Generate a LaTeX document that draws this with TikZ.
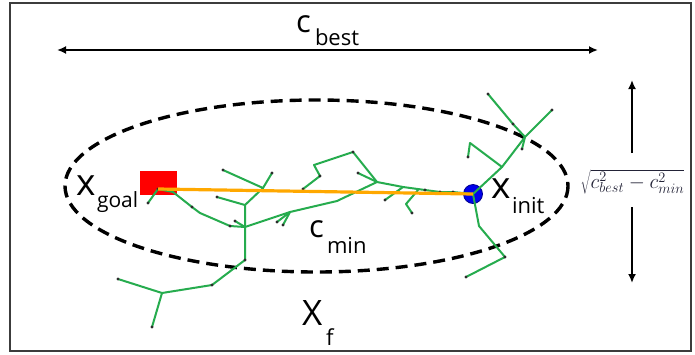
\documentclass[tikz,border=0pt]{standalone}
\usepackage{fontspec}
\setmainfont{Open Sans}
\usetikzlibrary{arrows.meta}
\definecolor{treegreen}{RGB}{38,172,78}
\definecolor{pathorange}{RGB}{255,168,0}
\definecolor{initblue}{RGB}{0,0,235}
\definecolor{goalred}{RGB}{255,0,0}
\definecolor{framegray}{RGB}{60,60,60}
\definecolor{formulacol}{RGB}{35,35,55}
\definecolor{dotgray}{RGB}{45,45,45}
\tikzset{
  frame/.style={draw=framegray, line width=2.2pt},
  dimarrow/.style={line width=2.6pt, black, arrows={-Latex[length=9pt,width=8pt]}},
  dimarrows/.style={line width=2.6pt, black, arrows={Latex[length=9pt,width=8pt]-Latex[length=9pt,width=8pt]}},
  bound/.style={draw=black, line width=3.4pt, dash pattern=on 12pt off 7pt},
  treeedge/.style={draw=treegreen, line width=2pt, line join=round, line cap=round},
  treedot/.style={circle, fill=dotgray, inner sep=0pt, minimum size=3.2pt},
  optpath/.style={draw=pathorange, line width=3.2pt},
  txt/.style={inner sep=0pt, outer sep=0pt, anchor=base west, text=black},
  bigc/.style={txt, font=\fontsize{31}{31}\selectfont},
  bigx/.style={txt, font=\fontsize{37}{37}\selectfont},
  bigX/.style={txt, font=\fontsize{35}{35}\selectfont},
  subs/.style={txt, font=\fontsize{22}{22}\selectfont},
  formula/.style={inner sep=0pt, text=formulacol, font=\fontsize{19.5}{22}\selectfont}
}
\begin{document}
\begin{tikzpicture}[x=1pt, y=-1pt]
\useasboundingbox (0,0) rectangle (695,354);
\fill[white] (0,0) rectangle (695,354);
\draw[frame] (10,3) rectangle (691,351);

% c_best dimension
\coordinate (cbL) at (57,50);
\coordinate (cbR) at (598,50);
\draw[dimarrows] (cbL) -- (cbR);
\node[bigc] (cbc) at (296,32) {c};
\node[subs] (cbs) at (315,45) {best};

% vertical dimension
\node[formula] (sq) at (632.5,182) {$\sqrt{c_{best}^2-c_{min}^2}$};
\coordinate (vt) at (632,80);
\coordinate (vtm) at (632,153);
\coordinate (vbm) at (632,207);
\coordinate (vb) at (632,283);
\draw[dimarrow] (vtm) -- (vt);
\draw[dimarrow] (vbm) -- (vb);

% ellipse
\draw[bound] (316.5,186) ellipse [x radius=251.5, y radius=86];

% goal and init
\node[fill=goalred, inner sep=0pt, minimum width=37pt, minimum height=24pt] (goal) at (158.5,183) {};
\node[circle, fill=initblue, draw=initblue!60!black, line width=0.8pt, inner sep=0pt, minimum size=19pt] (init) at (473,194) {};

% tree coordinates
\coordinate (g0) at (158,189);
\coordinate (t1) at (148,203);
\coordinate (t2) at (173,192);
\coordinate (t3) at (192,207);
\coordinate (t4) at (200,213);
\coordinate (t5) at (230,226);
\coordinate (t6) at (235,221);
\coordinate (j1) at (245,227);
\coordinate (j2) at (245,205);
\coordinate (t7) at (217,197);
\coordinate (j3) at (263,188);
\coordinate (t8) at (272,173);
\coordinate (t9) at (223,170);
\coordinate (t10) at (245,260);
\coordinate (t11) at (212,285);
\coordinate (j4) at (162,293);
\coordinate (t12) at (118,279);
\coordinate (t13) at (152,327);
\coordinate (j5) at (290,212);
\coordinate (t14) at (277,222);
\coordinate (t15) at (283,225);
\coordinate (t16) at (337,201);
\coordinate (j6) at (377,182);
\coordinate (t17) at (353,152);
\coordinate (t18) at (314,165);
\coordinate (t19) at (320,176);
\coordinate (t20) at (303,189);
\coordinate (t21) at (358,173);
\coordinate (t22) at (403,187);
\coordinate (t23) at (385,200);
\coordinate (t24) at (425,190);
\coordinate (b0) at (418,190);
\coordinate (b1) at (406,204);
\coordinate (b2) at (412,213);
\coordinate (t26) at (440,192);
\coordinate (t27) at (453,192);
\coordinate (ic) at (473,194);
\coordinate (r1) at (502,167);
\coordinate (r2) at (470,143);
\coordinate (r3) at (468,157);
\coordinate (r4) at (525,137);
\coordinate (r5) at (552,110);
\coordinate (r6) at (513,124);
\coordinate (r7) at (488,94);
\coordinate (r8) at (522,149);
\coordinate (d1) at (479,226);
\coordinate (d2) at (505,257);
\coordinate (d3) at (466,277);

% tree edges
\draw[treeedge] (g0) -- (t1);
\draw[treeedge] (g0) -- (t2) -- (t3) -- (t4) -- (t5) -- (j1);
\draw[treeedge] (t6) -- (j1);
\draw[treeedge] (t10) -- (j1) -- (j2) -- (t7);
\draw[treeedge] (j2) -- (j3) -- (t8);
\draw[treeedge] (t9) -- (j3);
\draw[treeedge] (t10) -- (t11) -- (j4) -- (t12);
\draw[treeedge] (j4) -- (t13);
\draw[treeedge] (j1) -- (j5) -- (t16) -- (j6);
\draw[treeedge] (j5) -- (t14);
\draw[treeedge] (j5) -- (t15);
\draw[treeedge] (j6) -- (t17) -- (t18) -- (t19) -- (t20);
\draw[treeedge] (j6) -- (t21);
\draw[treeedge] (j6) -- (t22) -- (t24) -- (t26) -- (t27) -- (ic);
\draw[treeedge] (t22) -- (t23);
\draw[treeedge] (b0) -- (b1) -- (b2);
\draw[treeedge] (ic) -- (r1) -- (r4) -- (r5);
\draw[treeedge] (r1) -- (r2) -- (r3);
\draw[treeedge] (r4) -- (r6) -- (r7);
\draw[treeedge] (r4) -- (r8);
\draw[treeedge] (ic) -- (d1) -- (d2) -- (d3);

% tree dots
\foreach \p in {g0,t1,t3,t5,t6,t7,t8,t9,t10,t11,t12,t13,t14,t15,t17,t19,t20,t21,t23,t24,b2,t26,t27,r3,r5,r6,r7,r8,d2,d3}
  \node[treedot] at (\p) {};

% optimal path
\draw[optpath] (g0) -- (ic);

% labels
\node[bigx] (xg) at (76,195) {x};
\node[subs, font=\fontsize{21}{21}\selectfont] (xgs) at (97,207) {goal};
\node[bigx] (xi) at (491,198) {x};
\node[subs] (xis) at (512,213) {init};
\node[bigc] (cmc) at (309,237) {c};
\node[subs] (cms) at (327,253) {min};
\node[bigX] (Xf) at (302,325) {X};
\node[subs] (Xfs) at (326,345) {f};
\end{tikzpicture}
\end{document}
